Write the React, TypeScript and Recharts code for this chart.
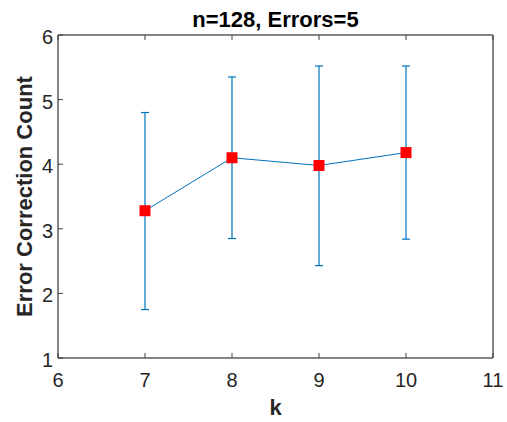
import React from 'react';
import {
  ComposedChart,
  Line,
  ErrorBar,
  XAxis,
  YAxis,
  Label,
} from 'recharts';

const K_VALUES = [7, 8, 9, 10];
const MEAN_COUNT = [3.28, 4.1, 3.98, 4.18];
const LOWER = [1.75, 2.85, 2.43, 2.84];
const UPPER = [4.8, 5.35, 5.52, 5.52];
const X_TICKS = [6, 7, 8, 9, 10, 11];
const Y_TICKS = [1, 2, 3, 4, 5, 6];

const data = K_VALUES.map((k, i) => ({
  k,
  mean: MEAN_COUNT[i],
  err: [MEAN_COUNT[i] - LOWER[i], UPPER[i] - MEAN_COUNT[i]],
}));

const BLUE = '#0072BD';
const AXIS = '#858585';
const TICK = '#404040';
const TEXT = '#262626';
const FONT = '"Liberation Sans", Arial, Helvetica, sans-serif';
const TICK_LEN = 5;
const TICK_FONT = 20;
const LABEL_FONT = 22;

const Square = (props: any) => {
  const { cx, cy, index } = props;
  if (cx == null || cy == null) return <g key={`sq-${index}`} />;
  return (
    <rect key={`sq-${index}`} x={cx - 5.5} y={cy - 5.5} width={11} height={11} fill="#ff0000" />
  );
};

// inward ticks, MATLAB style
const BottomTick = (props: any) => {
  const { x, y, payload } = props;
  return (
    <g>
      <line x1={x} y1={y} x2={x} y2={y - TICK_LEN} stroke={TICK} strokeWidth={1} />
      <text x={x} y={y + 29} textAnchor="middle" fontSize={TICK_FONT} fill={TEXT} fontFamily={FONT}>
        {payload.value}
      </text>
    </g>
  );
};

const LeftTick = (props: any) => {
  const { x, y, payload } = props;
  return (
    <g>
      <line x1={x} y1={y} x2={x + TICK_LEN} y2={y} stroke={TICK} strokeWidth={1} />
      <text x={x - 5} y={y + 9} textAnchor="end" fontSize={TICK_FONT} fill={TEXT} fontFamily={FONT}>
        {payload.value}
      </text>
    </g>
  );
};

const TopTick = (props: any) => {
  const { x, y } = props;
  return <line x1={x} y1={y} x2={x} y2={y + TICK_LEN} stroke={TICK} strokeWidth={1} />;
};

const RightTick = (props: any) => {
  const { x, y } = props;
  return <line x1={x} y1={y} x2={x - TICK_LEN} y2={y} stroke={TICK} strokeWidth={1} />;
};

export default function App() {
  return (
    <div style={{ position: 'absolute', left: 0, top: 0, width: 507, height: 422, background: '#fff', fontFamily: FONT }}>
      <ComposedChart
        width={507}
        height={422}
        data={data}
        margin={{ top: 34, right: 13, bottom: 0, left: 0 }}
      >
        <XAxis
          dataKey="k"
          type="number"
          domain={[6, 11]}
          ticks={X_TICKS}
          height={64}
          axisLine={{ stroke: AXIS, strokeWidth: 2 }}
          tickLine={false}
          tickSize={0}
          tickMargin={0}
          tick={BottomTick}
        >
          <Label
            value="k"
            position="insideBottom"
            offset={7}
            style={{ fontSize: LABEL_FONT, fontWeight: 'bold', fill: TEXT, fontFamily: FONT }}
          />
        </XAxis>
        <XAxis
          xAxisId="top"
          orientation="top"
          dataKey="k"
          type="number"
          domain={[6, 11]}
          ticks={X_TICKS}
          height={1}
          axisLine={{ stroke: AXIS, strokeWidth: 2 }}
          tickLine={false}
          tickSize={0}
          tickMargin={0}
          tick={TopTick}
        >
          <Label
            value="n=128, Errors=5"
            position="top"
            offset={7.5}
            style={{ fontSize: LABEL_FONT, fontWeight: 'bold', fill: '#000', fontFamily: FONT }}
          />
        </XAxis>
        <YAxis
          type="number"
          domain={[1, 6]}
          ticks={Y_TICKS}
          width={58}
          axisLine={{ stroke: AXIS, strokeWidth: 2 }}
          tickLine={false}
          tickSize={0}
          tickMargin={0}
          tick={LeftTick}
        >
          <Label
            value="Error Correction Count"
            angle={-90}
            position="insideLeft"
            offset={24}
            style={{ fontSize: LABEL_FONT, fontWeight: 'bold', fill: TEXT, textAnchor: 'middle', fontFamily: FONT }}
          />
        </YAxis>
        <YAxis
          yAxisId="right"
          orientation="right"
          type="number"
          domain={[1, 6]}
          ticks={Y_TICKS}
          width={1}
          axisLine={{ stroke: AXIS, strokeWidth: 2 }}
          tickLine={false}
          tickSize={0}
          tickMargin={0}
          tick={RightTick}
        />
        <Line
          dataKey="mean"
          stroke={BLUE}
          strokeWidth={1}
          dot={Square}
          activeDot={false}
          isAnimationActive={false}
        >
          <ErrorBar dataKey="err" direction="y" width={4} stroke={BLUE} strokeWidth={1.2} isAnimationActive={false} />
        </Line>
      </ComposedChart>
    </div>
  );
}
